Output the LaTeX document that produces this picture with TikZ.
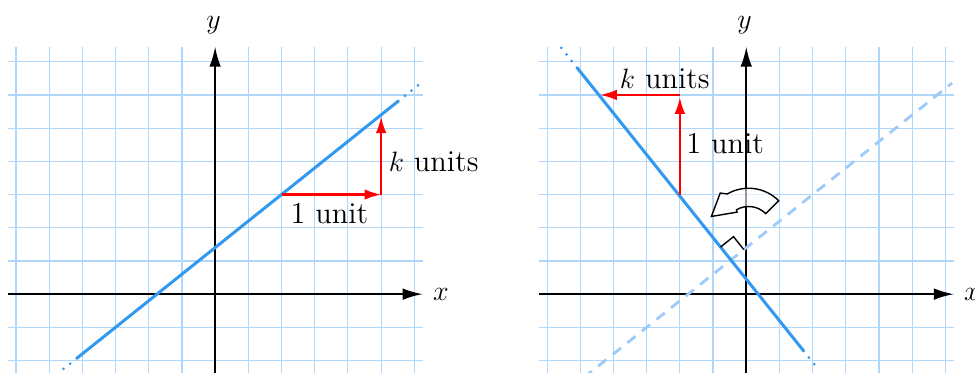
\documentclass[tikz,border=0pt]{standalone}
\usepackage{amsmath}
\usepackage{xcolor}
\usepackage{tikz}
\usetikzlibrary{arrows.meta}

\definecolor{linecol}{HTML}{3399F0}
\definecolor{gridcol}{HTML}{B0D6FA}
\definecolor{oldcol}{HTML}{9CCBF8}

\begin{document}
\begin{tikzpicture}[
    x=0.5cm, y=0.5cm,
    font=\fontsize{13}{16}\selectfont,
    >={Latex[length=3mm,width=1.75mm]},
    % --- line styles -------------------------------------------------
    gridline/.style={gridcol, line width=0.5pt, step=0.5cm},
    axis/.style={->, line width=0.85pt},
    graph/.style={linecol, line width=1.3pt},
    graphext/.style={linecol, line width=1.3pt, line cap=round,
        dash pattern=on 0pt off 3.6pt},
    oldgraph/.style={oldcol, line width=1.2pt, dash pattern=on 4.5pt off 3.5pt},
    run/.style={-{Latex[length=2.5mm,width=1.6mm]}, red, line width=0.9pt},
    % --- node styles -------------------------------------------------
    lbl/.style={anchor=base west, inner sep=0pt},
    turn/.style={draw, line width=0.6pt, fill=white, fill opacity=0.6,
        line join=miter}
]

\useasboundingbox (-6.48,-2.37) rectangle (22.89,8.86);

% --- left panel: slope k -------------------------------------------
\draw[gridline] (-6.25,-2.4) grid (6.25,7.45);
\coordinate (lxa) at (-6.25,0);
\coordinate (lxb) at (6.25,0);
\coordinate (lya) at (0,-2.4);
\coordinate (lyb) at (0,7.45);
\draw[axis] (lxa) -- (lxb);
\draw[axis] (lya) -- (lyb);
\node (lx) at (6.8,0) {$x$};
\node (ly) at (-0.05,8.1) {$y$};

% the line y = 0.8x + 1.4
\draw[graph] (-4.17,-1.936) -- (5.52,5.816);
\draw[graphext] (-4.17,-1.936) -- (-4.62,-2.296);
\draw[graphext] (5.52,5.816) -- (6.23,6.384);

% run and rise
\coordinate (la) at (2,3);
\coordinate (lb) at (5,3);
\coordinate (lc) at (5,5.35);
\draw[run] (la) -- (lb);
\draw[run] (lb) -- (lc);
\node[lbl] (lrun) at (2.26,2.12) {1 unit};
\node[lbl] (lrise) at (5.22,3.69) {$k$ units};

% --- right panel: perpendicular slope -------------------------------
\begin{scope}[xshift=8cm]
\draw[gridline] (-6.25,-2.4) grid (6.25,7.45);
\coordinate (rxa) at (-6.25,0);
\coordinate (rxb) at (6.25,0);
\coordinate (rya) at (0,-2.4);
\coordinate (ryb) at (0,7.45);
\draw[axis] (rxa) -- (rxb);
\draw[axis] (rya) -- (ryb);
\node (rx) at (6.8,0) {$x$};
\node (ry) at (-0.05,8.1) {$y$};

% old line (dashed) and turned line
\draw[oldgraph] (-4.9,-2.52) -- (6.2,6.36);
\draw[graph] (-5.1,6.825) -- (1.73,-1.7125);
\draw[graphext] (-5.1,6.825) -- (-5.67,7.5375);
\draw[graphext] (1.73,-1.7125) -- (2.08,-2.15);

% right angle mark
\draw[line width=0.6pt] (-0.775,1.419) -- (-0.385,1.731) -- (-0.073,1.341);

% rise and run
\coordinate (ra) at (-2,3);
\coordinate (rb) at (-2,6);
\coordinate (rc) at (-4.4,6);
\draw[run] (ra) -- (-2,5.93);
\draw[run] (rb) -- (rc);
\node[lbl] (rrise) at (-1.82,4.23) {1 unit};
\node[lbl] (rrun) at (-3.82,6.2) {$k$ units};

% turning arrow
\coordinate (tc) at (0.07,1.91);
\draw[turn] ([shift={(45:1.28)}]tc) arc[start angle=45, end angle=120, radius=1.28]
    -- ([shift={(127:1.42)}]tc) -- ([shift={(159:1.2)}]tc)
    -- ([shift={(122:0.66)}]tc) -- ([shift={(120:0.73)}]tc)
    arc[start angle=120, end angle=45, radius=0.73] -- cycle;
\end{scope}

\end{tikzpicture}
\end{document}
